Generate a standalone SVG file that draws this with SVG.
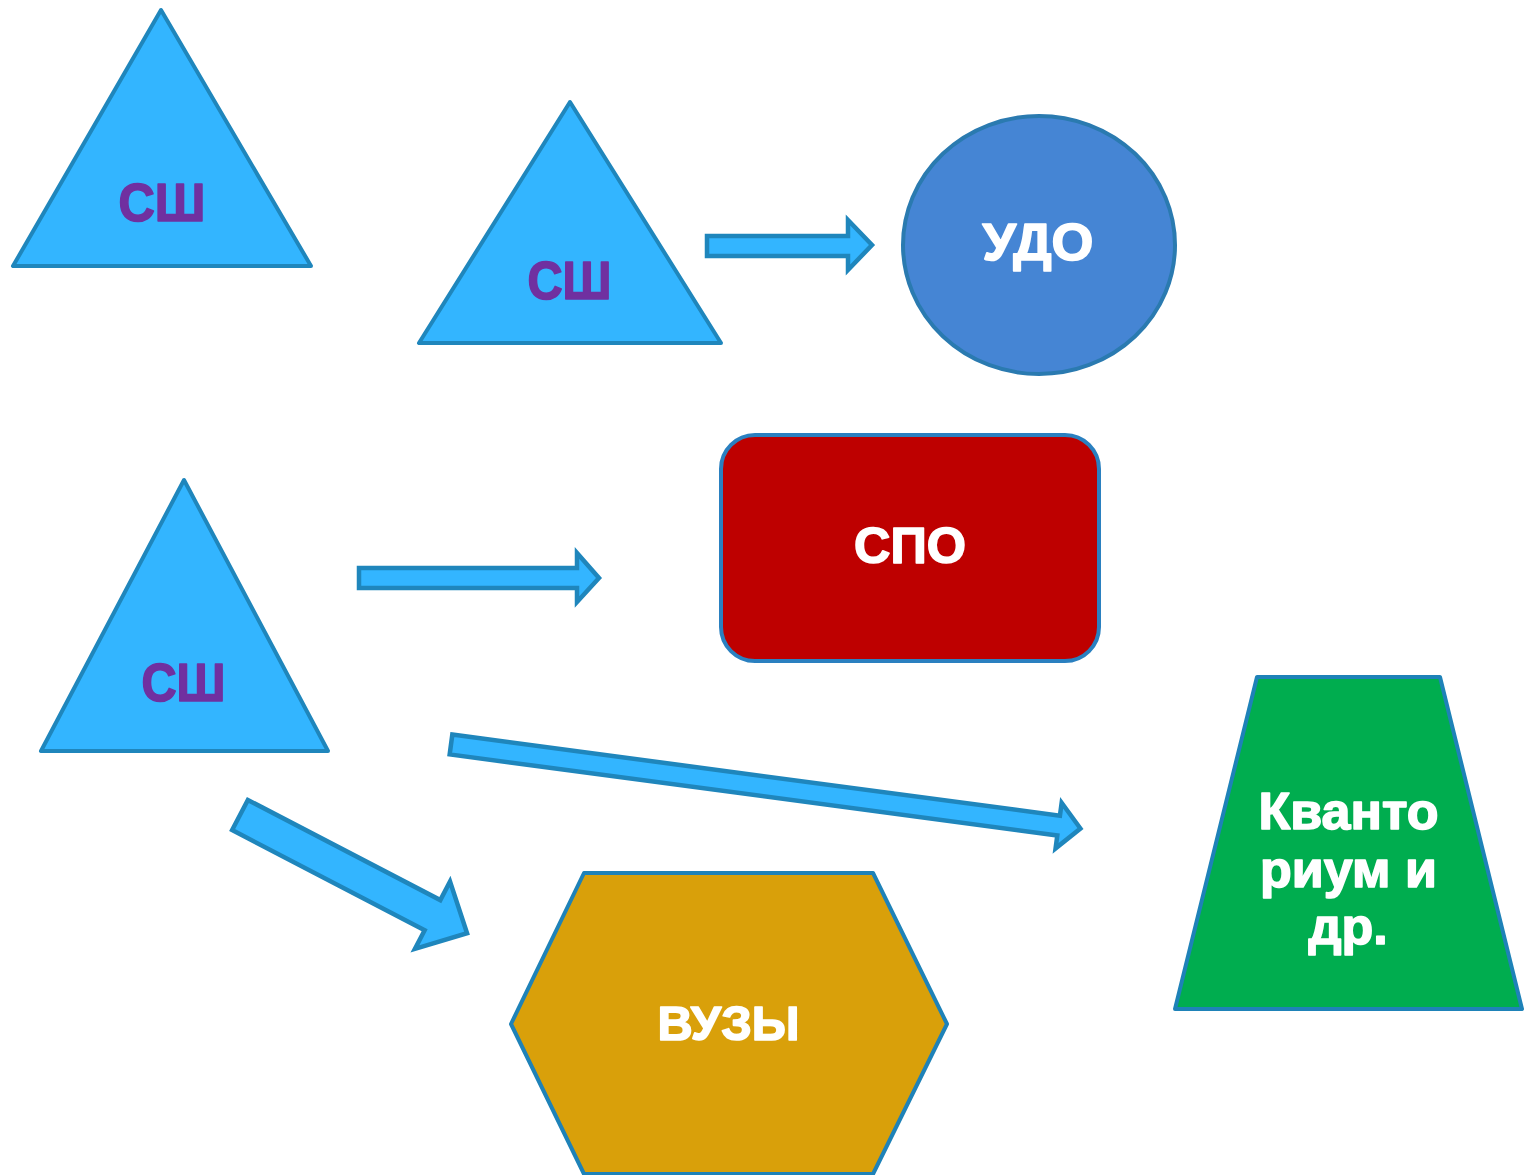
<svg xmlns="http://www.w3.org/2000/svg" width="1529" height="1175" viewBox="0 0 1529 1175">
<style>
.tri{fill:#33B5FF;stroke:#1F86BC;stroke-width:4;stroke-linejoin:round}
.arr{fill:#33B5FF;stroke:#1F86BC;stroke-width:4.5;stroke-linejoin:miter}
.t{font-family:"Liberation Sans",Arial,sans-serif;font-weight:bold;text-anchor:middle;stroke-width:1.6;stroke-linejoin:round}
.p{fill:#7030A0;stroke:#7030A0;font-size:53px}
.w{fill:#FFFFFF;stroke:#FFFFFF}
</style>
<rect width="1529" height="1175" fill="#FFFFFF"/>
<g id="connectors">
<polygon class="arr" points="707,236 848,236 848,220 872,245 848,270 848,256 707,256"/>
<polygon class="arr" points="359,568 577,568 577,553 599,578 577,602 577,588 359,588"/>
<polygon class="arr" transform="translate(451,744.5) rotate(7.6)" points="0,-10 613,-10 613,-23 635,0 613,23 613,10 0,10"/>
<polygon class="arr" transform="translate(240,815) rotate(27.5)" points="0,-17 217,-17 217,-38 256,0 217,38 217,17 0,17"/>
</g>
<g id="ssh1">
<polygon class="tri" points="161,10 13,266 311,266"/>
<text class="t p" x="162" y="221" textLength="87" lengthAdjust="spacingAndGlyphs">СШ</text>
</g>
<g id="ssh2">
<polygon class="tri" points="570,102 419,343 721,343"/>
<text class="t p" x="569.5" y="299" textLength="84" lengthAdjust="spacingAndGlyphs">СШ</text>
</g>
<g id="ssh3">
<polygon class="tri" points="184,480 41,751 328,751"/>
<text class="t p" x="183.5" y="701" textLength="84" lengthAdjust="spacingAndGlyphs">СШ</text>
</g>
<g id="udo">
<ellipse cx="1039" cy="245" rx="136" ry="129" fill="#4585D4" stroke="#2A7AB0" stroke-width="4"/>
<text class="t w" x="1038" y="260" font-size="51" textLength="111" lengthAdjust="spacingAndGlyphs">УДО</text>
</g>
<g id="spo">
<rect x="721" y="435" width="378" height="226" rx="34" fill="#BE0000" stroke="#2A80C0" stroke-width="4"/>
<text class="t w" x="910" y="563" font-size="50" textLength="112" lengthAdjust="spacingAndGlyphs">СПО</text>
</g>
<g id="kvantorium">
<polygon points="1257,677 1440,677 1522,1009 1175,1009" fill="#00AD4F" stroke="#1E82B8" stroke-width="4" stroke-linejoin="round"/>
<text class="t w" font-size="52" x="1348.5" y="829">Кванто</text>
<text class="t w" font-size="52" x="1348.5" y="887">риум и</text>
<text class="t w" font-size="52" x="1348" y="944">др.</text>
</g>
<g id="vuzy">
<polygon points="584,873 873,873 947,1024 873,1174 584,1174 511,1024" fill="#D9A00A" stroke="#1E82B8" stroke-width="4" stroke-linejoin="round"/>
<text class="t w" x="728.5" y="1040" font-size="48" textLength="142" lengthAdjust="spacingAndGlyphs">ВУЗЫ</text>
</g>
</svg>
